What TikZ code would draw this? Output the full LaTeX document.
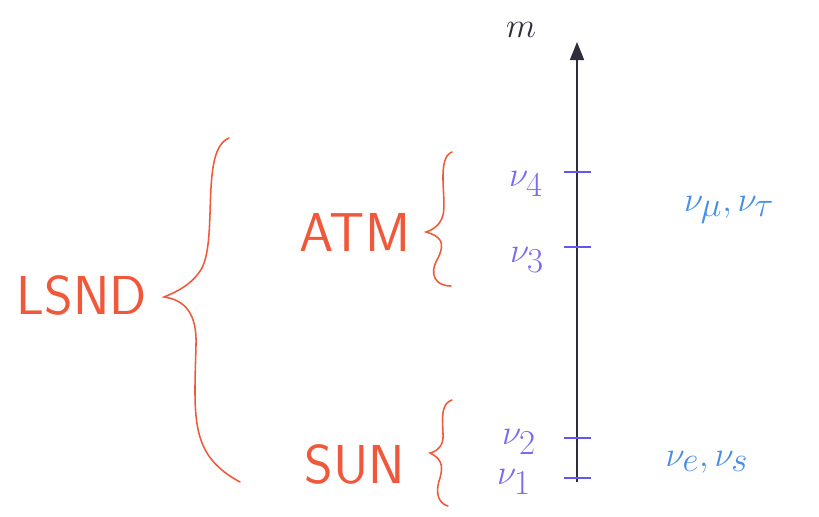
\documentclass[tikz,border=0pt]{standalone}
\usepackage{tikz}
\usetikzlibrary{arrows.meta,positioning,calc}
\usepackage{xcolor}
\usepackage{amsmath,amssymb}
\definecolor{hred}{HTML}{F0583C}
\definecolor{hpurple}{HTML}{7A6CF0}
\definecolor{hblue}{HTML}{4A8EE4}
\definecolor{haxis}{HTML}{2E2E3A}

\begin{document}
\begin{tikzpicture}[x=0.025cm, y=-0.025cm,
  grp/.style={text=hred, font=\sffamily\fontsize{39}{39}\selectfont, inner sep=0pt},
  brc/.style={draw=hred, line width=1.1pt, line cap=round},
  lvl/.style={text=hpurple, font=\fontsize{36}{36}\selectfont, inner sep=0pt},
  flv/.style={text=hblue, font=\fontsize{36}{36}\selectfont, inner sep=0pt},
  tick/.style={draw=hpurple!80!blue, line width=1.8pt},
  axis/.style={draw=haxis, line width=1.2pt, -{Triangle[length=4.5mm, width=3.5mm]}}
]
  \useasboundingbox (0,0) rectangle (819,517);

  % mass axis
  \coordinate (axbot) at (577,482);
  \coordinate (axtop) at (577,42);
  \draw[axis] (axbot) -- (axtop);
  \node[text=haxis, font=\fontsize{38}{38}\selectfont, inner sep=0pt] (m) at (521,30) {$m$};

  % mass levels
  \foreach \n/\y/\lx/\ly in {4/172/526/184, 3/247/527/260, 2/438/519/442, 1/478/514/482} {
    \draw[tick] (564,\y) -- (591,\y);
    \node[lvl] (nu\n) at (\lx,\ly) {$\nu_{\n}$};
  }

  % flavours
  \node[flv] (heavy) at (729,210) {$\nu_\mu,\nu_\tau$};
  \node[flv] (light) at (707,462) {$\nu_e,\nu_s$};

  % groups
  \node[grp] (lsnd) at (82,295) {LSND};
  \node[grp] (atm) at (355,232) {ATM};
  \node[grp] (sun) at (355,464) {SUN};

  \draw[brc] (229,138) .. controls (200,150) and (218,235) .. (202,268)
             .. controls (192,285) and (176,292) .. (164,297)
             .. controls (186,300) and (197,315) .. (196,345)
             .. controls (194,420) and (190,455) .. (240,482);
  \draw[brc] (452,152) .. controls (436,158) and (447,200) .. (443,215)
             .. controls (440,226) and (432,230) .. (426,232)
             .. controls (440,236) and (446,242) .. (438,258)
             .. controls (428,275) and (436,286) .. (451,286);
  \draw[brc] (452,400) .. controls (436,405) and (446,435) .. (442,443)
             .. controls (439,450) and (434,452) .. (430,453)
             .. controls (440,458) and (444,464) .. (440,478)
             .. controls (434,495) and (440,504) .. (448,506);
\end{tikzpicture}
\end{document}
